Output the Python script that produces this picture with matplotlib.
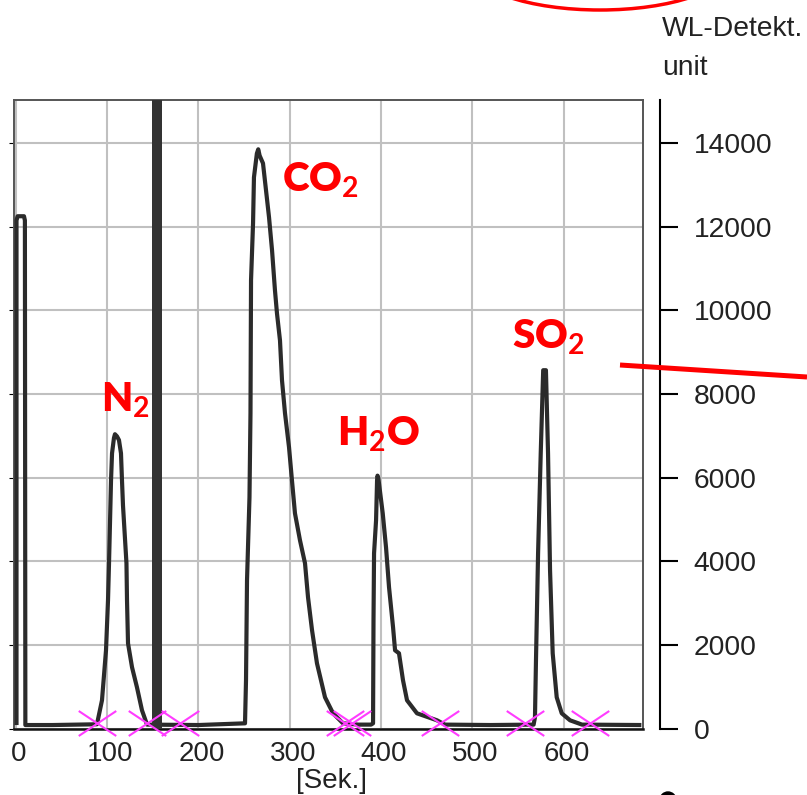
import matplotlib
matplotlib.use('Agg')
import matplotlib.pyplot as plt
from matplotlib.path import Path
from matplotlib.transforms import Affine2D, ScaledTranslation
from matplotlib.patches import Ellipse, Circle
from matplotlib.lines import Line2D

plt.rcParams['font.family'] = ['Liberation Sans', 'DejaVu Sans']
plt.rcParams['mathtext.fontset'] = 'custom'
plt.rcParams['mathtext.rm'] = 'Lato:bold'
plt.rcParams['mathtext.it'] = 'Lato:bold'
plt.rcParams['mathtext.bf'] = 'Lato:bold'

# ---------------- data ----------------
time_s = [0.8, 0.8, 2, 9, 10, 10.5, 40,
          88.9, 94.4, 98.8, 101, 102.1, 104.3, 105.4, 107.5, 108.6, 110.8, 113,
          115.2, 116.3, 117.4, 121.2, 121.8, 122.9, 127.3, 132.7, 138.2, 143.7,
          200,
          251, 252.1, 253.2, 255.9, 257, 257.6, 259.8, 260.8, 264, 265.5, 267,
          270.7, 277.3, 280.6, 283.8, 286, 289.3, 291.5, 294.8, 299.2, 302.4,
          305.7, 311.2, 316.7, 320, 324.4, 329.8, 338.6, 347.4, 358.3, 375,
          389, 391.2, 391.7, 392.3, 394.5, 395.6, 396.1, 397, 401.8, 405.4,
          408.7, 413.1, 415.3, 419.6, 424, 428.4, 439.3, 461.2, 470, 520,
          567, 568.5, 569.6, 571.9, 574.8, 577.5, 580.5, 582.8, 585, 587.9,
          592.3, 597.8, 606.9, 620, 685]
signal = [90, 12150, 12250, 12250, 12150, 90, 90,
          108, 681, 1876, 3071, 3956, 5940, 6585, 6950, 7040, 6990, 6900,
          6585, 5940, 5340, 3956, 3071, 2043, 1470, 992, 442, 100,
          90,
          131, 1159, 3550, 5530, 7540, 10720, 12080, 13180, 13750, 13850, 13700,
          13515, 12225, 11436, 10480, 9930, 9284, 8330, 7540, 6728, 5940,
          5150, 4505, 3956, 3143, 2354, 1565, 753, 370, 131, 100,
          100, 131, 2593, 4195, 4983, 5940, 6050, 5990, 5150, 4338,
          3382, 2426, 1876, 1805, 1159, 681, 370, 203, 100, 90,
          100, 275, 1637, 4195, 6585, 8570, 8570, 6585, 3788, 1805,
          753, 370, 203, 100, 90]
# saturated (off-scale) injection signal
overload_start, overload_end, overload_level = 149.5, 160.0, 16000
cut_times = [88.6, 143.3, 179.8, 360.6, 368.2, 464.5, 557.6, 628.8]
cut_level = 130

x_ticks = [0, 100, 200, 300, 400, 500, 600]
x_labels = ['0', '100', '200', '300', '400', '500', '600']
y_ticks = [0, 2000, 4000, 6000, 8000, 10000, 12000, 14000]
y_labels = ['0', '2000', '4000', '6000', '8000', '10000', '12000', '14000']
x_label = '[Sek.]'
y_title = ['WL-Detekt.', 'unit']
peak_names = [r'N$_\mathrm{2}$', r'CO$_\mathrm{2}$', r'H$_\mathrm{2}$O', r'SO$_\mathrm{2}$']

# ---------------- figure ----------------
W, H = 807, 795
fig = plt.figure(figsize=(W / 100, H / 100), dpi=100)
px = Affine2D().scale(1, -1).translate(0, H)   # pixel coords, origin top-left

L, R, T, B = 14.4, 643.2, 99.5, 728.8
ax = fig.add_axes([L / W, 1 - B / H, (R - L) / W, (B - T) / H])

ax.plot(time_s, signal, color='#2b2b2b', lw=3.0, solid_joinstyle='round',
        solid_capstyle='butt', zorder=3)
ax.bar([(overload_start + overload_end) / 2], [overload_level],
       width=overload_end - overload_start, color='#333333', zorder=3)

xmark = Path([(-1.5, -1), (1.5, 1), (-1.5, 1), (1.5, -1)],
             [Path.MOVETO, Path.LINETO, Path.MOVETO, Path.LINETO])
ax.plot(cut_times, [cut_level] * len(cut_times), ls='none', marker=xmark,
        ms=27, mec='#ff3cff', mfc='none', mew=1.5, zorder=4, clip_on=False)

ax.set_xlim(-1.5, 687)
ax.set_ylim(0, 15040)
ax.set_xticks(x_ticks)
ax.set_xticklabels(x_labels)
ax.set_yticks(y_ticks)
ax.tick_params(axis='y', left=False, labelleft=False)
ax.tick_params(axis='x', length=0, pad=9, labelsize=20, labelcolor='#222222')
shift = ScaledTranslation(0.03, 0, fig.dpi_scale_trans)
for lab in ax.get_xticklabels():
    lab.set_transform(lab.get_transform() + shift)
ax.grid(True, color='#c0c0c0', lw=1.5)
ax.set_axisbelow(True)
for s in ['left', 'top', 'right']:
    ax.spines[s].set_color('#555555')
    ax.spines[s].set_linewidth(1.4)
ax.spines['bottom'].set_color('#111111')
ax.spines['bottom'].set_linewidth(1.8)

ax2 = ax.twinx()
ax2.set_ylim(0, 15040)
ax2.set_yticks(y_ticks)
ax2.set_yticklabels(y_labels)
for s in ['left', 'top', 'bottom']:
    ax2.spines[s].set_visible(False)
ax2.spines['right'].set_position(('outward', 12.3))
ax2.spines['right'].set_linewidth(1.5)
ax2.spines['right'].set_color('black')
ax2.tick_params(axis='y', direction='out', length=13, width=1.5, color='black',
                pad=11, labelsize=20.3, labelcolor='#222222')

fig.text(331, 788, x_label, transform=px, ha='center', va='baseline',
         fontsize=20, color='#222222')
fig.text(662, 36, y_title[0], transform=px, ha='left', va='baseline',
         fontsize=20.3, color='#222222')
fig.text(662, 75, y_title[1], transform=px, ha='left', va='baseline',
         fontsize=20.3, color='#222222')

# red annotations
label_pos = [(101, 412), (282, 192), (337, 446), (512, 349)]
for name, (lx, ly) in zip(peak_names, label_pos):
    fig.text(lx, ly, name, transform=px, ha='left', va='baseline',
             fontsize=29, fontfamily='Lato', fontweight='heavy', color='#ff0000')

fig.add_artist(Line2D([620, 807], [365, 377], transform=px, color='#ff0000',
                      lw=3.6, solid_capstyle='butt'))
fig.add_artist(Ellipse((600, -35), 260, 90, transform=px, fill=False,
                       edgecolor='#ff0000', lw=2.5))
fig.add_artist(Circle((668, 800), 8, transform=px, color='black'))

fig.savefig('out.png', dpi=100)
